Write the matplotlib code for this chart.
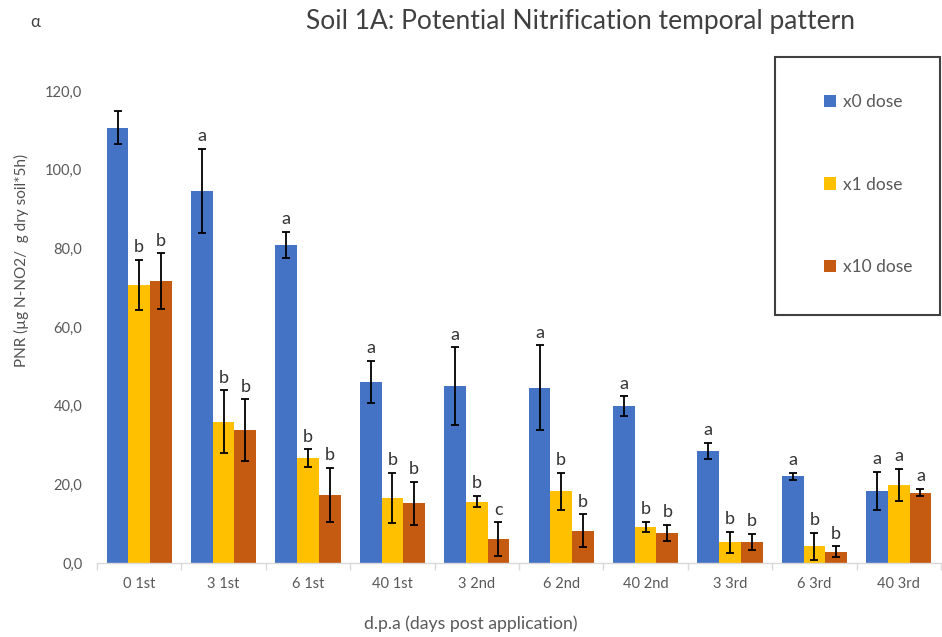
import matplotlib.pyplot as plt
from matplotlib.patches import Rectangle
import numpy as np

plt.rcParams['font.family'] = ['Lato', 'DejaVu Sans']

# data
categories = ['0 1st', '3 1st', '6 1st', '40 1st', '3 2nd', '6 2nd', '40 2nd', '3 3rd', '6 3rd', '40 3rd']
x0_dose = [110.7, 94.6, 80.9, 46.1, 44.9, 44.6, 39.9, 28.5, 22.1, 18.3]
x0_err = [4.1, 10.6, 3.3, 5.3, 9.9, 10.7, 2.5, 2.1, 0.9, 4.9]
x1_dose = [70.7, 35.9, 26.6, 16.6, 15.6, 18.3, 9.2, 5.3, 4.2, 19.8]
x1_err = [6.3, 8.0, 2.3, 6.4, 1.4, 4.7, 1.3, 2.7, 3.4, 4.1]
x10_dose = [71.7, 33.8, 17.3, 15.2, 6.0, 8.2, 7.7, 5.3, 2.9, 17.9]
x10_err = [7.0, 7.8, 6.8, 5.5, 4.3, 4.2, 2.0, 2.1, 1.3, 0.9]
x0_letters = ['', 'a', 'a', 'a', 'a', 'a', 'a', 'a', 'a', 'a']
x1_letters = ['b', 'b', 'b', 'b', 'b', 'b', 'b', 'b', 'b', 'a']
x10_letters = ['b', 'b', 'b', 'b', 'c', 'b', 'b', 'b', 'b', 'a']
yticks = [0, 20, 40, 60, 80, 100, 120]

series = [
    ('x0 dose', x0_dose, x0_err, x0_letters, '#4472C4'),
    ('x1 dose', x1_dose, x1_err, x1_letters, '#FFC000'),
    ('x10 dose', x10_dose, x10_err, x10_letters, '#C55A11'),
]

grey = '#595959'
fig = plt.figure(figsize=(9.42, 6.37), dpi=100)
ax = fig.add_axes([97 / 942, 1 - 563 / 637, 844 / 942, 472 / 637])

x = np.arange(len(categories))
w = 0.257
handles = []
for i, (name, vals, errs, letters, col) in enumerate(series):
    pos = x + (i - 1) * w
    b = ax.bar(pos, vals, w, color=col, label=name, zorder=2)
    handles.append(b)
    ax.errorbar(pos, vals, yerr=errs, fmt='none', ecolor='black',
                elinewidth=1.3, capsize=3, capthick=1.3, zorder=3)
    for p, v, e, t in zip(pos, vals, errs, letters):
        if t:
            ax.text(p, v + e + 1.2, t, ha='center', va='bottom',
                    fontsize=13, color='#333333')

ax.set_ylim(0, 120)
ax.set_xlim(-0.5, len(categories) - 0.5)
ax.set_yticks(yticks)
ax.set_yticklabels([f'{v:.1f}'.replace('.', ',') for v in yticks])
ax.set_xticks(x)
ax.set_xticklabels(categories)
ax.set_xticks(np.arange(-0.5, len(categories)), minor=True)
ax.tick_params(axis='x', which='major', length=0, pad=10, labelsize=10.5, labelcolor=grey)
ax.tick_params(axis='x', which='minor', length=5, color='#D9D9D9', width=1)
ax.tick_params(axis='y', length=0, pad=10.5, labelsize=10.5, labelcolor=grey)
for s in ['top', 'right', 'left']:
    ax.spines[s].set_visible(False)
ax.spines['bottom'].set_color('#D9D9D9')
ax.spines['bottom'].set_linewidth(1)

fig.text(21 / 942, 1 - 260 / 637, 'PNR (µg N-NO2/  g dry soil*5h)', rotation=90,
         ha='center', va='center', fontsize=11, color='#505050')
fig.text(471 / 942, 1 - 624 / 637, 'd.p.a (days post application)', ha='center', va='center',
         fontsize=12.7, color=grey)
fig.text(581 / 942, 1 - 22 / 637, 'Soil 1A: Potential Nitrification temporal pattern',
         ha='center', va='center', fontsize=19, color='#404040')
fig.text(35 / 942, 1 - 22 / 637, 'α', ha='center', va='center', fontsize=12, color='#404040')

# legend box
fig.patches.append(Rectangle((775 / 942, 1 - 315 / 637), 165 / 942, 258 / 637,
                             transform=fig.transFigure, fill=False,
                             edgecolor='#404040', linewidth=1.5, zorder=5))
fig.legend(handles=handles, loc='upper left', bbox_to_anchor=(815 / 942, 1 - 85 / 637),
           frameon=False, fontsize=12.5, labelcolor=grey, handlelength=0.7,
           handleheight=0.7, handletextpad=0.4, labelspacing=3.85, borderpad=0)

fig.savefig('out.png', dpi=100)
